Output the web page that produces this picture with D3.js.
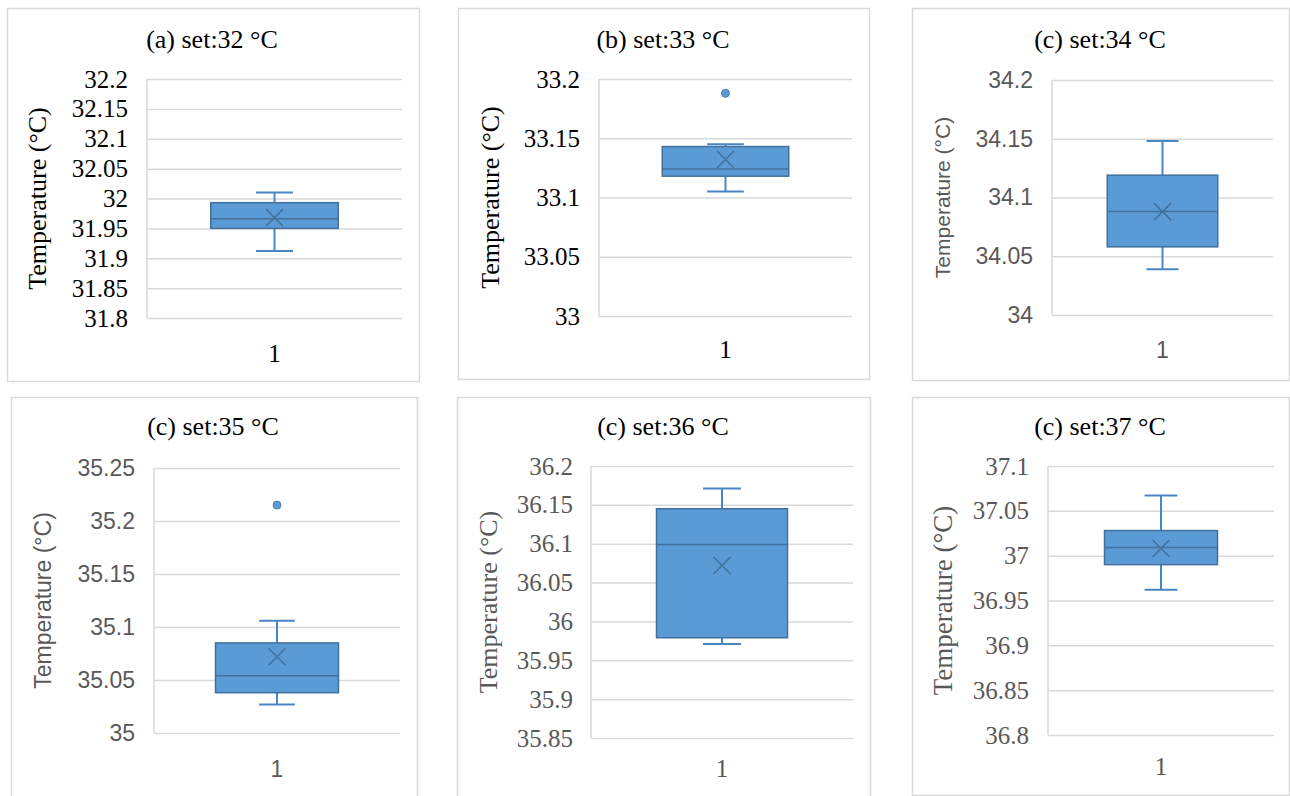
<!DOCTYPE html>
<html>
<head>
<meta charset="utf-8">
<script src="https://cdn.jsdelivr.net/npm/d3@7"></script>
<style>
  body { margin: 0; background: #fff; }
  svg { display: block; }
</style>
</head>
<body>
<svg id="chart"></svg>
<script>
// DATA
var categories = ["1"];
var panelTitles = ["(a) set:32 °C", "(b) set:33 °C", "(c) set:34 °C", "(c) set:35 °C", "(c) set:36 °C", "(c) set:37 °C"];
var yTitle = "Temperature (°C)";

var yTicks = [
  [31.8, 31.85, 31.9, 31.95, 32, 32.05, 32.1, 32.15, 32.2],
  [33, 33.05, 33.1, 33.15, 33.2],
  [34, 34.05, 34.1, 34.15, 34.2],
  [35, 35.05, 35.1, 35.15, 35.2, 35.25],
  [35.85, 35.9, 35.95, 36, 36.05, 36.1, 36.15, 36.2],
  [36.8, 36.85, 36.9, 36.95, 37, 37.05, 37.1]
];

var whiskerLow  = [31.912, 33.105, 34.039, 35.027, 35.971, 36.962];
var q1          = [31.950, 33.118, 34.058, 35.038, 35.979, 36.990];
var median      = [31.966, 33.124, 34.088, 35.054, 36.099, 37.009];
var q3          = [31.993, 33.143, 34.119, 35.085, 36.145, 37.028];
var whiskerHigh = [32.010, 33.145, 34.148, 35.106, 36.171, 37.067];
var means       = [31.968, 33.132, 34.088, 35.072, 36.072, 37.008];
var outliers    = [[], [33.188], [], [35.215], [], []];

// LAYOUT (per panel: frame, plot area, label positions)
var SERIF = "Liberation Serif, Times New Roman, serif";
var SANS = "Liberation Sans, Arial, sans-serif";

var layout = [
  {frame:[7,8,419,381],    plot:[147,79,402,318],  tickX:128,  yTitleX:37,  titleX:212,  titleY:48,  xLabY:362, fam:SERIF, tickColor:"#000",    tickSize:25, yTitleSize:26, yTitleColor:"#000"},
  {frame:[458,8,869,379],  plot:[599,79,852,316],  tickX:580,  yTitleX:490, titleX:663,  titleY:48,  xLabY:358, fam:SERIF, tickColor:"#000",    tickSize:25, yTitleSize:26, yTitleColor:"#000"},
  {frame:[912,8,1289,380], plot:[1052,80,1273,315],tickX:1033, yTitleX:942, titleX:1100, titleY:48,  xLabY:358, fam:SANS,  tickColor:"#595959", tickSize:23, yTitleSize:21, yTitleColor:"#595959"},
  {frame:[11,397,417,800], plot:[154,468,400,733], tickX:135,  yTitleX:43,  titleX:213,  titleY:435, xLabY:777, fam:SANS,  tickColor:"#595959", tickSize:23, yTitleSize:23, yTitleColor:"#595959"},
  {frame:[457,397,870,800],plot:[591,466,853,738], tickX:573,  yTitleX:488, titleX:663,  titleY:435, xLabY:777, fam:SERIF, tickColor:"#595959", tickSize:25, yTitleSize:26, yTitleColor:"#595959"},
  {frame:[912,397,1289,795],plot:[1048,466,1274,735],tickX:1029,yTitleX:943, titleX:1100, titleY:435, xLabY:775, fam:SERIF, tickColor:"#595959", tickSize:25, yTitleSize:27, yTitleColor:"#595959"}
];

var width = 1290;
var height = 796;
var gridColor = "#d9d9d9";
var boxFill = "#5b9bd5";
var boxStroke = "#41719c";
var whiskerColor = "#4a86c4";

var svg = d3.select("#chart")
  .attr("width", width)
  .attr("height", height);

svg.append("rect")
  .attr("width", width)
  .attr("height", height)
  .attr("fill", "#fff");

var fmt = function(v){ return String(+v.toFixed(2)); };

layout.forEach(function(L, i){
  var g = svg.append("g")
    .attr("class", "panel")
    .attr("font-family", L.fam);
  var x0 = L.plot[0], y0 = L.plot[1], x1 = L.plot[2], y1 = L.plot[3];
  var ticks = yTicks[i];

  // frame
  g.append("rect")
    .attr("x", L.frame[0] + 0.5)
    .attr("y", L.frame[1] + 0.5)
    .attr("width", L.frame[2] - L.frame[0])
    .attr("height", L.frame[3] - L.frame[1])
    .attr("fill", "#fff")
    .attr("stroke", gridColor)
    .attr("stroke-width", 1.5);

  // scales
  var yScale = d3.scaleLinear()
    .domain([ticks[0], ticks[ticks.length - 1]])
    .range([y1, y0]);

  var xScale = d3.scaleBand()
    .domain(categories)
    .range([x0, x1]);

  // gridlines
  g.append("g")
    .attr("transform", "translate(" + x0 + ",0)")
    .call(d3.axisLeft(yScale).tickValues(ticks).tickSize(-(x1 - x0)).tickFormat(""))
    .call(function(s){ s.select(".domain").remove(); })
    .selectAll("line")
    .attr("stroke", gridColor)
    .attr("stroke-width", 1.5);

  // left axis line
  g.append("line")
    .attr("x1", x0).attr("x2", x0)
    .attr("y1", y0).attr("y2", y1)
    .attr("stroke", gridColor)
    .attr("stroke-width", 1.5);

  // tick labels
  var yAxis = g.append("g")
    .attr("transform", "translate(" + L.tickX + ",0)")
    .call(d3.axisLeft(yScale).tickValues(ticks).tickSize(0).tickPadding(0).tickFormat(fmt));
  yAxis.attr("font-family", L.fam).attr("font-size", L.tickSize);
  yAxis.select(".domain").remove();
  yAxis.selectAll("text")
    .style("font-family", L.fam)
    .style("font-size", L.tickSize + "px")
    .attr("fill", L.tickColor);

  // x axis label
  g.append("text")
    .attr("x", xScale(categories[0]) + xScale.bandwidth() / 2)
    .attr("y", L.xLabY)
    .attr("text-anchor", "middle")
    .style("font-family", L.fam)
    .style("font-size", L.tickSize + "px")
    .attr("fill", L.tickColor)
    .text(categories[0]);

  // titles
  g.append("text")
    .attr("x", L.titleX)
    .attr("y", L.titleY)
    .attr("text-anchor", "middle")
    .style("font-family", SERIF)
    .style("font-size", "26px")
    .attr("fill", "#000")
    .text(panelTitles[i]);

  g.append("text")
    .attr("transform", "translate(" + L.yTitleX + "," + ((y0 + y1) / 2) + ") rotate(-90)")
    .attr("text-anchor", "middle")
    .attr("dominant-baseline", "central")
    .style("font-family", L.fam)
    .style("font-size", L.yTitleSize + "px")
    .attr("fill", L.yTitleColor)
    .text(yTitle);

  // box plot
  var cx = xScale(categories[0]) + xScale.bandwidth() / 2;
  var boxW = xScale.bandwidth() * 0.5;
  var capW = xScale.bandwidth() * 0.145;

  var whiskers = [[whiskerHigh[i], q3[i]], [q1[i], whiskerLow[i]]];
  g.selectAll(".whisker")
    .data(whiskers)
    .join("line")
    .attr("class", "whisker")
    .attr("x1", cx).attr("x2", cx)
    .attr("y1", function(d){ return yScale(d[0]); })
    .attr("y2", function(d){ return yScale(d[1]); })
    .attr("stroke", whiskerColor)
    .attr("stroke-width", 2);

  g.selectAll(".cap")
    .data([whiskerHigh[i], whiskerLow[i]])
    .join("line")
    .attr("class", "cap")
    .attr("x1", cx - capW / 2).attr("x2", cx + capW / 2)
    .attr("y1", function(d){ return yScale(d); })
    .attr("y2", function(d){ return yScale(d); })
    .attr("stroke", whiskerColor)
    .attr("stroke-width", 2);

  g.append("rect")
    .attr("x", cx - boxW / 2)
    .attr("y", yScale(q3[i]))
    .attr("width", boxW)
    .attr("height", yScale(q1[i]) - yScale(q3[i]))
    .attr("fill", boxFill)
    .attr("stroke", boxStroke)
    .attr("stroke-width", 1.5);

  g.append("line")
    .attr("x1", cx - boxW / 2).attr("x2", cx + boxW / 2)
    .attr("y1", yScale(median[i])).attr("y2", yScale(median[i]))
    .attr("stroke", boxStroke)
    .attr("stroke-width", 1.5);

  // mean marker
  var my = yScale(means[i]), m = 8.5;
  g.append("path")
    .attr("d", "M" + (cx - m) + "," + (my - m) + "L" + (cx + m) + "," + (my + m) +
               "M" + (cx - m) + "," + (my + m) + "L" + (cx + m) + "," + (my - m))
    .attr("stroke", boxStroke)
    .attr("stroke-width", 1.5)
    .attr("fill", "none");

  // outliers
  g.selectAll(".outlier")
    .data(outliers[i])
    .join("circle")
    .attr("class", "outlier")
    .attr("cx", cx)
    .attr("cy", function(d){ return yScale(d); })
    .attr("r", 4)
    .attr("fill", boxFill)
    .attr("stroke", boxStroke)
    .attr("stroke-width", 0.8);
});
</script>
</body>
</html>
